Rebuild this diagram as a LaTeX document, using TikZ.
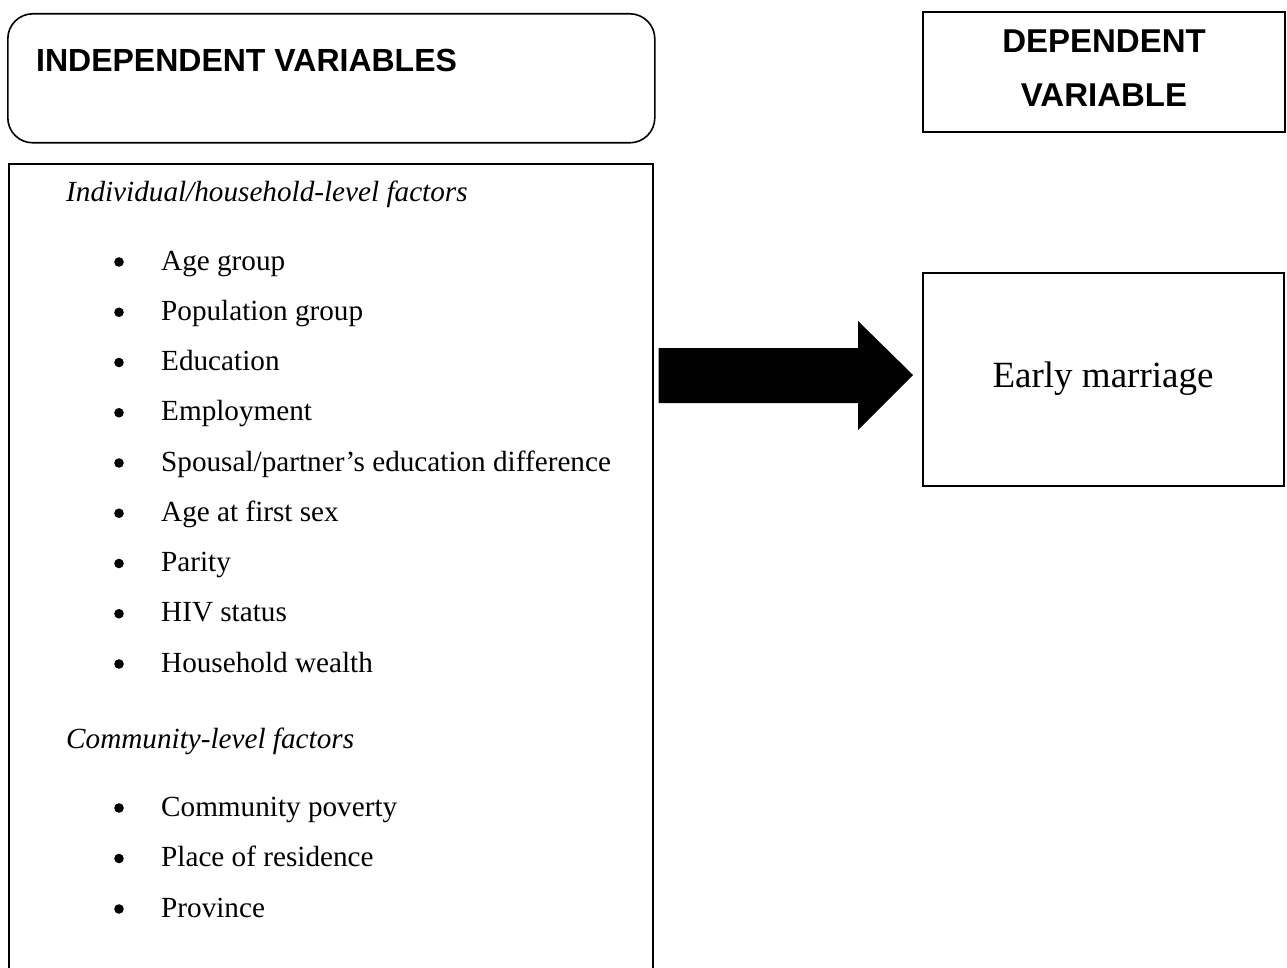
\documentclass[tikz,border=0pt]{standalone}
\usepackage{fontspec}
\setmainfont{Liberation Serif}
\newfontfamily\arialfont{Liberation Sans}
\begin{document}
\begin{tikzpicture}[x=1pt,y=-1pt,
  frame/.style={draw=black,line width=1.6pt,inner sep=0pt},
  head/.style={font=\arialfont\bfseries\fontsize{33}{40}\selectfont,inner sep=0pt,anchor=base},
  body/.style={font=\fontsize{29.2}{35}\selectfont,inner sep=0pt,anchor=base west},
  sub/.style={font=\itshape\fontsize{29.2}{35}\selectfont,inner sep=0pt,anchor=base west},
  bul/.style={circle,fill=black,inner sep=0pt,minimum size=9.6pt}]
\useasboundingbox (0,0) rectangle (1287,968);
\clip (0,0) rectangle (1287,968);
% boxes
\node[frame,rounded corners=25pt,minimum width=647pt,minimum height=129pt,anchor=north west] (indep) at (7,13) {};
\node[frame,minimum width=644pt,minimum height=850pt,anchor=north west] (list) at (8,163) {};
\node[frame,minimum width=362pt,minimum height=120pt,anchor=north west] (dep) at (922,11) {};
\node[frame,minimum width=361pt,minimum height=213pt,anchor=north west] (outc) at (922,272) {};
% headings
\node[head,font=\arialfont\bfseries\fontsize{32}{40}\selectfont,anchor=base west] (indeptxt) at (36,72) {INDEPENDENT VARIABLES};
\node[head] (dep1) at (1104,53) {DEPENDENT};
\node[head] (dep2) at (1104,107) {VARIABLE};
\node[font=\fontsize{37}{44}\selectfont,inner sep=0pt,anchor=base] (em) at (1103,387) {Early marriage};
% list
\node[sub] (ind) at (66,202) {Individual/household-level factors};
\foreach \t [count=\i from 0] in {Age group,Population group,Education,Employment,Spousal/partner’s education difference,Age at first sex,Parity,HIV status,Household wealth}{
  \node[bul] (b\i) at (119,262+50.25*\i) {};
  \node[body] (t\i) at (161,270+50.25*\i) {\t};
}
\node[sub] (com) at (66,748) {Community-level factors};
\foreach \t [count=\i from 0] in {Community poverty,Place of residence,Province}{
  \node[bul] (c\i) at (119,808+50.5*\i) {};
  \node[body] (u\i) at (161,816+50.5*\i) {\t};
}
% block arrow
\coordinate (a0) at ([xshift=5pt]list.east |- 0,348);
\coordinate (a1) at (858,348);
\coordinate (a2) at (858,321);
\coordinate (tip) at ([xshift=-9pt]outc.west |- 0,375);
\coordinate (a4) at (858,430);
\coordinate (a5) at (858,403);
\coordinate (a6) at ([xshift=5pt]list.east |- 0,403);
\fill[black] (a0) -- (a1) -- (a2) -- (tip) -- (a4) -- (a5) -- (a6) -- cycle;
\end{tikzpicture}
\end{document}
